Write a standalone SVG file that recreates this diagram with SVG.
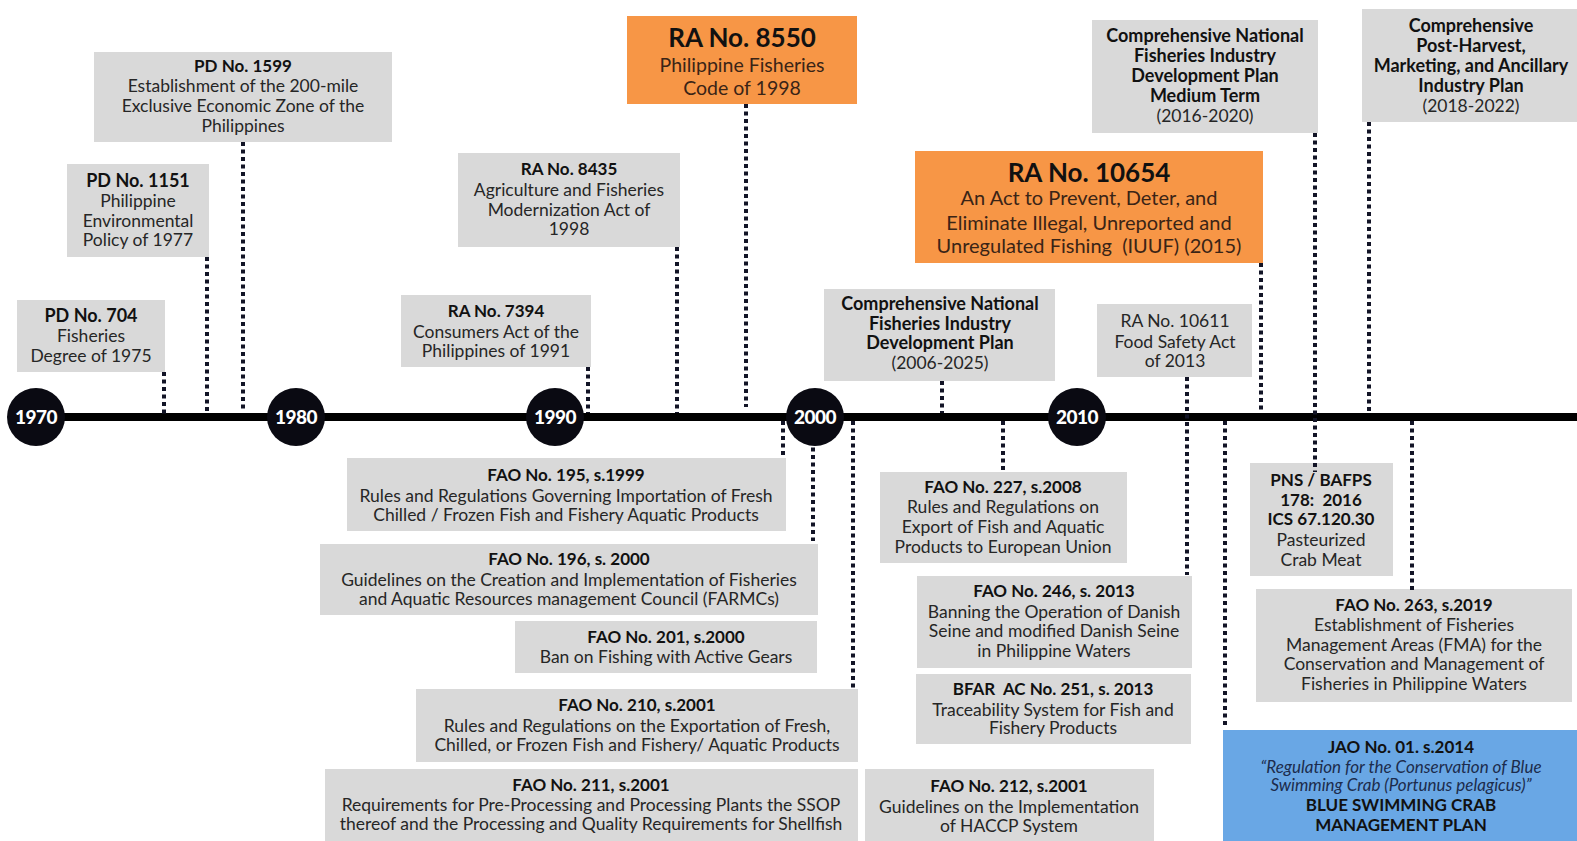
<svg xmlns="http://www.w3.org/2000/svg" width="1577" height="841" viewBox="0 0 1577 841">
  <style>
    .g { fill: #d9d9d9; }
    .o { fill: #f79646; }
    .bl { fill: #69a7e5; }
    text { font-family: Lato, "Open Sans", "Liberation Sans", sans-serif; text-anchor: middle; fill: #262626; font-size: 17.5px; }
    .h { font-weight: 700; fill: #111; font-size: 17px; }
    .p { font-weight: 700; fill: #111; font-size: 18px; }
    .hb { font-weight: 700; fill: #111; font-size: 26px; }
    .ob { fill: #3a2416; font-size: 19.5px; }
    .ob2 { fill: #3a2416; font-size: 20px; }
    .it { font-style: italic; fill: #1c2c4c; font-size: 17px; }
    .yr { fill: #fff; font-weight: 900; font-size: 19px; letter-spacing: -0.5px; }
    .dot { stroke: #121426; stroke-width: 4; stroke-dasharray: 4 3.5; fill: none; }
  </style>

  <!-- main time axis -->
  <line x1="36" y1="417" x2="1577" y2="417" stroke="#000" stroke-width="8"/>

  <!-- boxes above the axis -->
  <g id="pd1599">
    <rect class="g" x="94" y="52" width="298" height="90"/>
    <text x="243" y="72" class="h">PD No. 1599</text>
    <text x="243" y="92">Establishment of the 200-mile</text>
    <text x="243" y="112">Exclusive Economic Zone of the</text>
    <text x="243" y="132">Philippines</text>
  </g>
  <g id="pd1151">
    <rect class="g" x="67" y="164" width="142" height="93"/>
    <text x="138" y="187" class="h" style="font-size:18px">PD No. 1151</text>
    <text x="138" y="207">Philippine</text>
    <text x="138" y="227">Environmental</text>
    <text x="138" y="246">Policy of 1977</text>
  </g>
  <g id="pd704">
    <rect class="g" x="17" y="300" width="148" height="72"/>
    <text x="91" y="322" class="h" style="font-size:18px">PD No. 704</text>
    <text x="91" y="342">Fisheries</text>
    <text x="91" y="362">Degree of 1975</text>
  </g>
  <g id="ra7394">
    <rect class="g" x="401" y="295" width="190" height="72"/>
    <text x="496" y="317" class="h">RA No. 7394</text>
    <text x="496" y="338">Consumers Act of the</text>
    <text x="496" y="357">Philippines of 1991</text>
  </g>
  <g id="ra8435">
    <rect class="g" x="458" y="153" width="222" height="94"/>
    <text x="569" y="175" class="h">RA No. 8435</text>
    <text x="569" y="196">Agriculture and Fisheries</text>
    <text x="569" y="216">Modernization Act of</text>
    <text x="569" y="235">1998</text>
  </g>
  <g id="ra8550">
    <rect class="o" x="627" y="16" width="230" height="88"/>
    <text x="742" y="47" class="hb">RA No. 8550</text>
    <text x="742" y="72" class="ob">Philippine Fisheries</text>
    <text x="742" y="95" class="ob">Code of 1998</text>
  </g>
  <g id="cnfidp">
    <rect class="g" x="824" y="289" width="231" height="92"/>
    <text x="940" y="310" class="p">Comprehensive National</text>
    <text x="940" y="330" class="p">Fisheries Industry</text>
    <text x="940" y="349" class="p">Development Plan</text>
    <text x="940" y="369">(2006-2025)</text>
  </g>
  <g id="ra10654">
    <rect class="o" x="915" y="151" width="348" height="112"/>
    <text x="1089" y="182" class="hb">RA No. 10654</text>
    <text x="1089" y="205" class="ob2">An Act to Prevent, Deter, and</text>
    <text x="1089" y="230" class="ob2">Eliminate Illegal, Unreported and</text>
    <text x="1089" y="253" class="ob2" xml:space="preserve">Unregulated Fishing  (IUUF) (2015)</text>
  </g>
  <g id="ra10611">
    <rect class="g" x="1097" y="304" width="155" height="73"/>
    <text x="1175" y="327">RA No. 10611</text>
    <text x="1175" y="348">Food Safety Act</text>
    <text x="1175" y="367">of 2013</text>
  </g>
  <g id="cnfidp-medium">
    <rect class="g" x="1092" y="20" width="226" height="113"/>
    <text x="1205" y="42" class="p">Comprehensive National</text>
    <text x="1205" y="62" class="p">Fisheries Industry</text>
    <text x="1205" y="82" class="p">Development Plan</text>
    <text x="1205" y="102" class="p">Medium Term</text>
    <text x="1205" y="122">(2016-2020)</text>
  </g>
  <g id="post-harvest">
    <rect class="g" x="1362" y="9" width="215" height="113"/>
    <text x="1471" y="32" class="p">Comprehensive</text>
    <text x="1471" y="52" class="p">Post-Harvest,</text>
    <text x="1471" y="72" class="p">Marketing, and Ancillary</text>
    <text x="1471" y="92" class="p">Industry Plan</text>
    <text x="1471" y="112">(2018-2022)</text>
  </g>

  <!-- boxes below the axis -->
  <g id="fao195">
    <rect class="g" x="347" y="458" width="439" height="73"/>
    <text x="566" y="481" class="h">FAO No. 195, s.1999</text>
    <text x="566" y="502">Rules and Regulations Governing Importation of Fresh</text>
    <text x="566" y="521">Chilled / Frozen Fish and Fishery Aquatic Products</text>
  </g>
  <g id="fao196">
    <rect class="g" x="320" y="544" width="498" height="71"/>
    <text x="569" y="565" class="h">FAO No. 196, s. 2000</text>
    <text x="569" y="586">Guidelines on the Creation and Implementation of Fisheries</text>
    <text x="569" y="605">and Aquatic Resources management Council (FARMCs)</text>
  </g>
  <g id="fao201">
    <rect class="g" x="515" y="621" width="302" height="52"/>
    <text x="666" y="643" class="h">FAO No. 201, s.2000</text>
    <text x="666" y="663">Ban on Fishing with Active Gears</text>
  </g>
  <g id="fao210">
    <rect class="g" x="416" y="689" width="442" height="73"/>
    <text x="637" y="711" class="h">FAO No. 210, s.2001</text>
    <text x="637" y="732">Rules and Regulations on the Exportation of Fresh,</text>
    <text x="637" y="751">Chilled, or Frozen Fish and Fishery/ Aquatic Products</text>
  </g>
  <g id="fao211">
    <rect class="g" x="325" y="769" width="533" height="72"/>
    <text x="591" y="791" class="h">FAO No. 211, s.2001</text>
    <text x="591" y="811">Requirements for Pre-Processing and Processing Plants the SSOP</text>
    <text x="591" y="830">thereof and the Processing and Quality Requirements for Shellfish</text>
  </g>
  <g id="fao227">
    <rect class="g" x="880" y="472" width="247" height="91"/>
    <text x="1003" y="493" class="h">FAO No. 227, s.2008</text>
    <text x="1003" y="513">Rules and Regulations on</text>
    <text x="1003" y="533">Export of Fish and Aquatic</text>
    <text x="1003" y="553">Products to European Union</text>
  </g>
  <g id="fao246">
    <rect class="g" x="917" y="576" width="275" height="92"/>
    <text x="1054" y="597" class="h">FAO No. 246, s. 2013</text>
    <text x="1054" y="618">Banning the Operation of Danish</text>
    <text x="1054" y="637">Seine and modified Danish Seine</text>
    <text x="1054" y="657">in Philippine Waters</text>
  </g>
  <g id="bfar-ac251">
    <rect class="g" x="916" y="674" width="275" height="70"/>
    <text x="1053" y="695" class="h" xml:space="preserve">BFAR  AC No. 251, s. 2013</text>
    <text x="1053" y="716">Traceability System for Fish and</text>
    <text x="1053" y="734">Fishery Products</text>
  </g>
  <g id="fao212">
    <rect class="g" x="865" y="769" width="289" height="72"/>
    <text x="1009" y="792" class="h">FAO No. 212, s.2001</text>
    <text x="1009" y="813">Guidelines on the Implementation</text>
    <text x="1009" y="832">of HACCP System</text>
  </g>
  <g id="pns-bafps">
    <rect class="g" x="1250" y="463" width="143" height="113"/>
    <text x="1321" y="486" class="h">PNS / BAFPS</text>
    <text x="1321" y="506" class="h" xml:space="preserve">178:  2016</text>
    <text x="1321" y="525" class="h">ICS 67.120.30</text>
    <text x="1321" y="546">Pasteurized</text>
    <text x="1321" y="566">Crab Meat</text>
  </g>
  <g id="fao263">
    <rect class="g" x="1256" y="589" width="316" height="113"/>
    <text x="1414" y="611" class="h">FAO No. 263, s.2019</text>
    <text x="1414" y="631">Establishment of Fisheries</text>
    <text x="1414" y="651">Management Areas (FMA) for the</text>
    <text x="1414" y="670">Conservation and Management of</text>
    <text x="1414" y="690">Fisheries in Philippine Waters</text>
  </g>
  <g id="jao01">
    <rect class="bl" x="1223" y="730" width="354" height="111"/>
    <text x="1401" y="753" class="h">JAO No. 01. s.2014</text>
    <text x="1401" y="773" class="it">“Regulation for the Conservation of Blue</text>
    <text x="1401" y="791" class="it">Swimming Crab (Portunus pelagicus)”</text>
    <text x="1401" y="811" class="h">BLUE SWIMMING CRAB</text>
    <text x="1401" y="831" class="h">MANAGEMENT PLAN</text>
  </g>

  <!-- dotted leader lines from the axis to each box -->
  <g id="connectors" class="dot">
    <line x1="164" y1="372" x2="164" y2="414"/>
    <line x1="207" y1="257" x2="207" y2="414"/>
    <line x1="243" y1="142" x2="243" y2="409"/>
    <line x1="588" y1="367" x2="588" y2="413"/>
    <line x1="677" y1="247" x2="677" y2="413"/>
    <line x1="746" y1="104" x2="746" y2="407"/>
    <line x1="783" y1="421" x2="783" y2="458"/>
    <line x1="813" y1="440" x2="813" y2="541"/>
    <line x1="853" y1="421" x2="853" y2="688"/>
    <line x1="942" y1="381" x2="942" y2="413"/>
    <line x1="1003" y1="421" x2="1003" y2="471"/>
    <line x1="1187" y1="377" x2="1187" y2="575"/>
    <line x1="1225" y1="421" x2="1225" y2="726"/>
    <line x1="1261" y1="263" x2="1261" y2="413"/>
    <line x1="1315" y1="133" x2="1315" y2="472"/>
    <line x1="1369" y1="122" x2="1369" y2="413"/>
    <line x1="1412" y1="421" x2="1412" y2="590"/>
  </g>

  <!-- decade markers -->
  <g id="y1970"><circle cx="36" cy="417" r="29" fill="#0a0a12"/><text x="36" y="424" class="yr">1970</text></g>
  <g id="y1980"><circle cx="296" cy="417" r="29" fill="#0a0a12"/><text x="296" y="424" class="yr">1980</text></g>
  <g id="y1990"><circle cx="555" cy="417" r="29" fill="#0a0a12"/><text x="555" y="424" class="yr">1990</text></g>
  <g id="y2000"><circle cx="815" cy="417" r="29" fill="#0a0a12"/><text x="815" y="424" class="yr">2000</text></g>
  <g id="y2010"><circle cx="1077" cy="417" r="29" fill="#0a0a12"/><text x="1077" y="424" class="yr">2010</text></g>
</svg>
